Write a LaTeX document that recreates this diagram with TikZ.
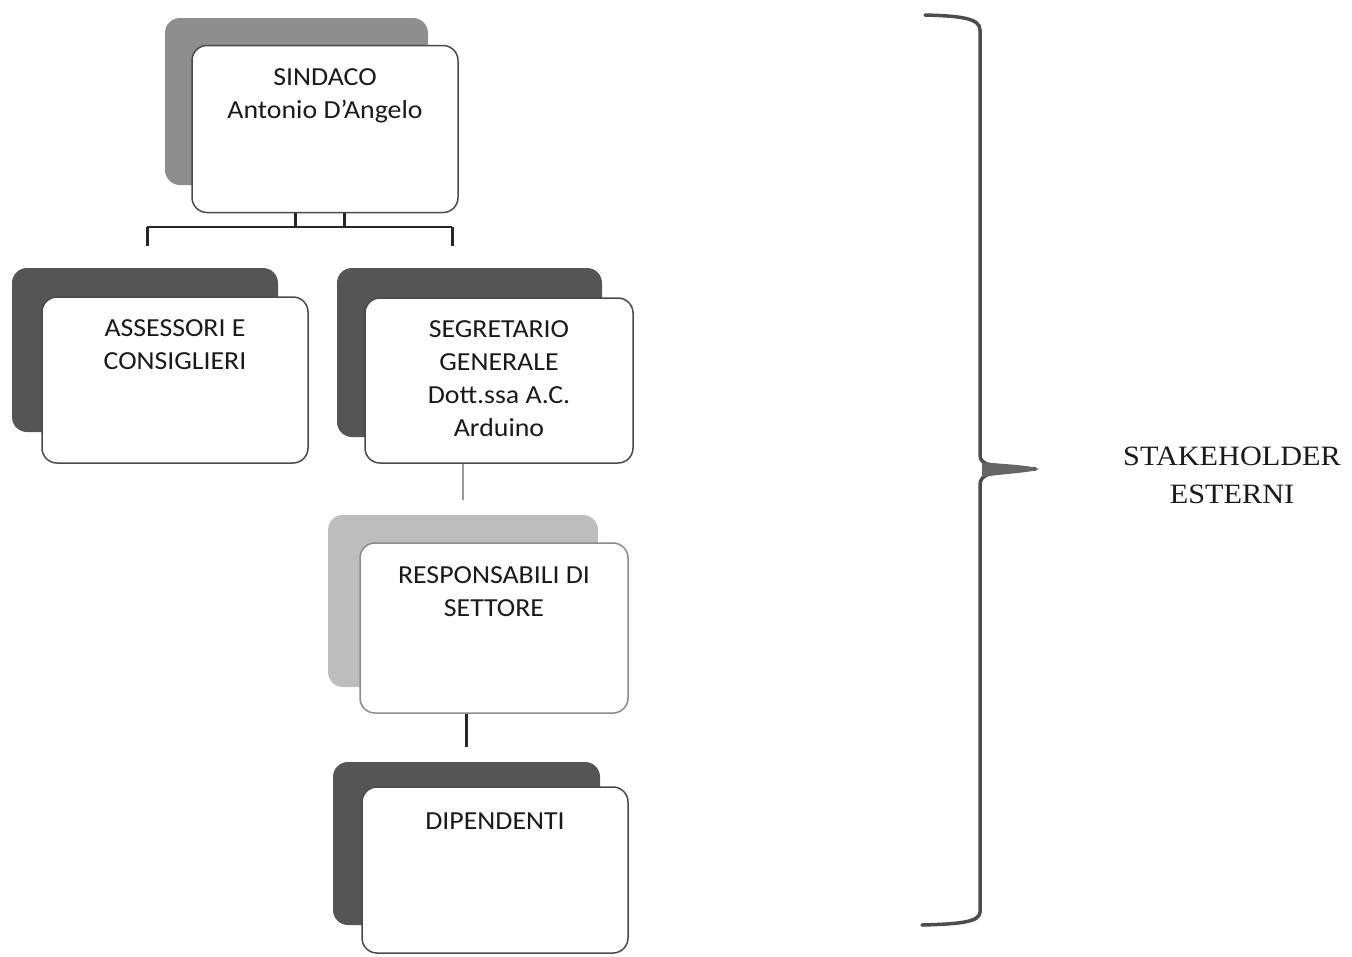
\documentclass[tikz,border=0pt]{standalone}
\usepackage{fontspec}
\newfontfamily\boxfont[FakeStretch=1.07]{Carlito}
\newfontfamily\serfont[FakeStretch=1.08]{Liberation Serif}
\definecolor{bgA}{HTML}{8E8E8E}
\definecolor{bgB}{HTML}{555555}
\definecolor{bgC}{HTML}{BDBDBD}
\definecolor{edge}{HTML}{4A4A4A}
\definecolor{ink}{HTML}{1A1A1A}
\tikzset{
  backbox/.style={rectangle, rounded corners=15pt, draw=none, inner sep=0pt, minimum width=266pt, minimum height=167pt},
  frontbox/.style={rectangle, rounded corners=15pt, fill=white, draw=edge, line width=1.5pt, inner sep=0pt, minimum width=266pt, minimum height=167pt},
  boxtext/.style={align=center, inner sep=0pt, text=ink, font=\boxfont\fontsize{26}{33}\selectfont},
  conn/.style={draw=black!85, line width=2.2pt},
  connlight/.style={draw=black!40, line width=2.2pt},
}
\begin{document}
\begin{tikzpicture}[x=1pt,y=-1pt]
\useasboundingbox (0,0) rectangle (1352,956);
% SINDACO
\node[backbox, fill=bgA, minimum width=263pt] (sindB) at (296.5,101.5) {};
\node[frontbox] (sindF) at (325,129) {};
\node[boxtext] (sindT) at (325,96) {SINDACO\\Antonio D’Angelo};
% ASSESSORI
\node[backbox, fill=bgB, minimum height=164pt] (assB) at (145,350) {};
\node[frontbox, minimum height=166pt] (assF) at (175,380) {};
\node[boxtext] (assT) at (175,345) {ASSESSORI E\\CONSIGLIERI};
% SEGRETARIO
\node[backbox, fill=bgB, minimum width=265pt, minimum height=169pt] (segB) at (469.5,352.5) {};
\node[frontbox, minimum width=268pt, minimum height=165pt] (segF) at (499,380.5) {};
\node[boxtext] (segT) at (499,379) {SEGRETARIO\\GENERALE\\Dott.ssa A.C.\\Arduino};
% RESPONSABILI
\node[backbox, fill=bgC, minimum width=270pt, minimum height=172pt] (respB) at (463,601) {};
\node[frontbox, minimum width=268pt, minimum height=170pt, draw=black!45] (respF) at (494,628) {};
\node[boxtext] (respT) at (494,592) {RESPONSABILI DI\\SETTORE};
% DIPENDENTI
\node[backbox, fill=bgB, minimum width=267pt, minimum height=163pt] (dipB) at (466.5,843.5) {};
\node[frontbox, minimum height=166pt] (dipF) at (495,870) {};
\node[boxtext] (dipT) at (495,821.5) {DIPENDENTI};
% bracket below SINDACO
\coordinate (bj1) at (295,227);
\coordinate (bj2) at (344,227);
\coordinate (bl) at (147,227);
\coordinate (br) at (452,227);
\draw[conn, line width=3pt] (sindF.south -| bj1) -- (bj1);
\draw[conn, line width=3pt] (sindF.south -| bj2) -- (bj2);
\draw[conn, line width=2pt] (bl) -- (br);
\draw[conn, line width=3pt, shorten >=22pt] (bl) -- (assB.north -| bl);
\draw[conn, line width=3pt, shorten >=22pt] (br) -- (segB.north -| br);
% vertical connectors
\draw[connlight, shorten >=15pt] (segF.south -| respB.north) -- (respB.north);
\draw[conn, line width=3pt, shorten >=15pt] (respF.south -| dipB.north) -- (dipB.north);
% brace
\draw[black!70, line width=3.5pt, line cap=round]
  (925,15) .. controls (960,16) and (980,18) .. (980,30)
  -- (980,455) .. controls (980,465) and (990,467) .. (1036,469)
  .. controls (990,471) and (980,474) .. (980,485)
  -- (980,912) .. controls (980,922) and (960,924) .. (922,925);
\fill[black!60] (982,462) .. controls (1000,464) and (1030,465) .. (1039,469)
  .. controls (1030,473) and (1000,474) .. (982,477) -- cycle;
% label
\node[align=center, inner sep=0pt, text=ink, font=\serfont\fontsize{28}{38}\selectfont] (stake) at (1232,475) {STAKEHOLDER\\ESTERNI};
\end{tikzpicture}
\end{document}
